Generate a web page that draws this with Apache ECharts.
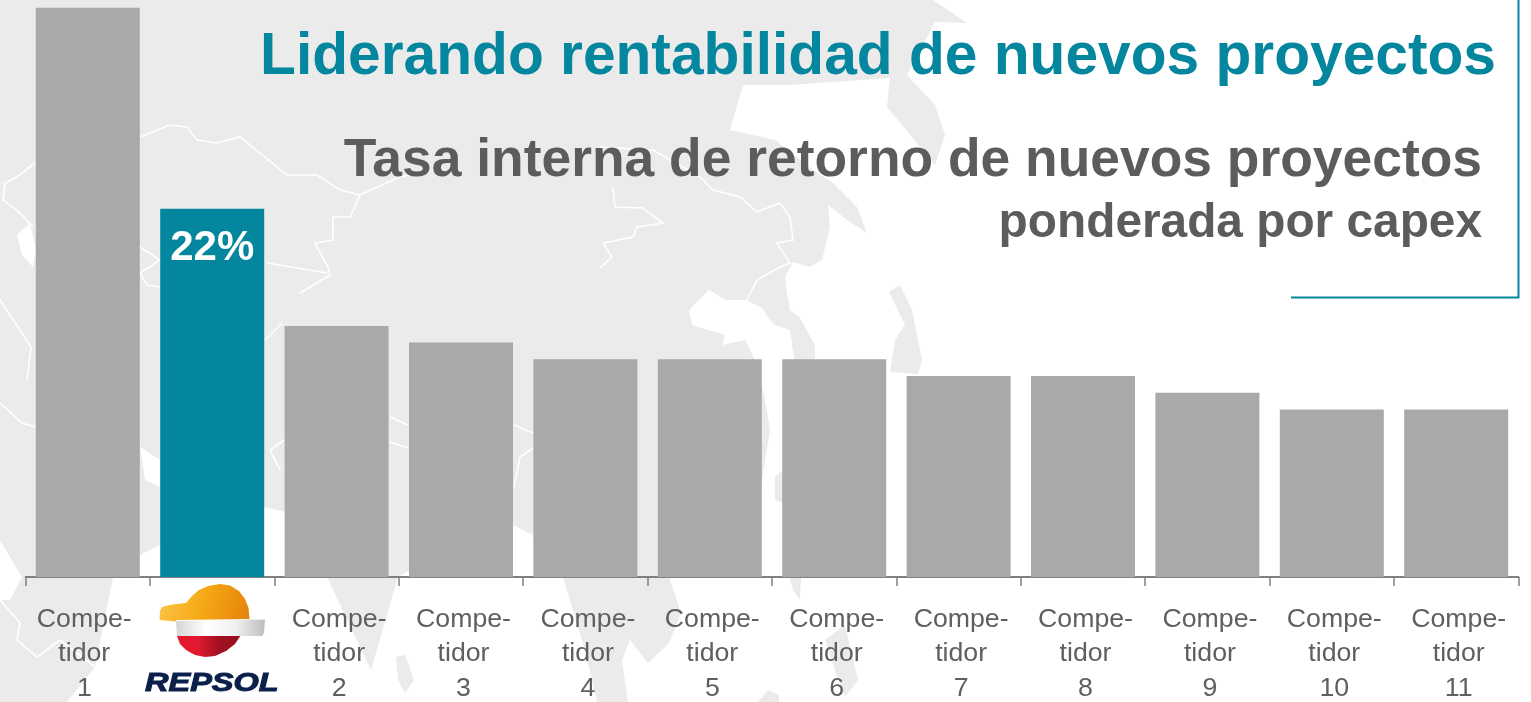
<!DOCTYPE html>
<html><head><meta charset="utf-8">
<style>html,body{margin:0;padding:0;background:#fff}#c{width:1531px;height:702px}</style>
<script src="https://cdn.jsdelivr.net/npm/echarts@6/dist/echarts.min.js"></script>
</head><body><div id="c"></div>
<script>
const categories = ['Competidor 1','REPSOL','Competidor 2','Competidor 3','Competidor 4','Competidor 5','Competidor 6','Competidor 7','Competidor 8','Competidor 9','Competidor 10','Competidor 11'];
const values = [34,22,15,14,13,13,13,12,12,11,10,10];
const highlightCategory = 'REPSOL';
const titleText = 'Liderando rentabilidad de nuevos proyectos';
const subtitleText = 'Tasa interna de retorno de nuevos proyectos';
const subtitle2Text = 'ponderada por capex';
const TEAL='#03869e', GREY='#a9a9a9', TXT='#5c5c5c', LAND='#ebebeb';
const FONT='"Liberation Sans", Arial, sans-serif';

// decorative world-map backdrop (not data)
const landMain=[[0,0],[933,0],[967,23],[935,22],[907,75],[935,105],[945,135],[935,165],[887,107],[890,78],[790,85],[743,85],[730,130],[775,140],[813,170],[833,183],[857,207],[867,233],[850,222],[828,205],[830,227],[822,260],[810,267],[793,262],[785,277],[787,293],[790,310],[800,318],[815,345],[815,365],[795,365],[790,330],[775,325],[770,320],[762,308],[746,300],[726,300],[709,290],[689,310],[692,325],[725,335],[722,345],[745,340],[755,360],[765,400],[770,430],[762,480],[700,560],[669,577],[681,613],[669,643],[648,663],[630,640],[622,660],[628,702],[597,702],[585,650],[563,577],[533,535],[513,525],[410,570],[398,577],[371,670],[327,577],[285,512],[265,507],[160,545],[140,555],[113,578],[103,627],[95,667],[67,702],[0,702]];
const landJapan=[[889,292],[900,285],[912,310],[922,360],[918,374],[890,372],[895,340],[905,325]];
const landIslands=[[[396,657],[405,655],[414,680],[405,693],[398,680]],[[775,477],[783,470],[783,503],[775,500]],[[789,577],[801,577],[800,600],[793,590]],[[758,702],[768,690],[779,695],[779,702]],[[825,640],[845,625],[858,680],[845,697],[835,670]]];
const seaPatches=[[[0,540],[22,577],[10,600],[0,600]],[[140,447],[160,460],[160,487],[145,480]],[[17,235],[30,223],[36,250],[33,267],[22,255]]];
const borders=[
 [[35,163],[17,177],[5,183],[3,200],[20,213],[33,227]],
 [[140,137],[170,125],[187,127],[197,140],[217,143],[240,137],[287,175],[317,175],[340,190],[360,195],[400,177],[430,170]],
 [[360,195],[350,217],[333,217],[333,240],[315,243],[328,267],[330,275],[300,293]],
 [[140,247],[160,260],[140,273],[147,285],[160,287]],
 [[267,263],[327,273]],
 [[613,187],[615,207],[643,208],[663,223],[637,227],[633,237],[603,243],[612,257],[600,268]],
 [[600,147],[653,150],[700,177],[713,190],[740,197],[757,212],[780,203],[790,217],[793,240],[777,243],[790,263],[780,267],[757,280],[747,300]],
 [[0,600],[20,623],[17,640],[37,657],[60,640],[95,667]],
 [[0,403],[22,423],[35,427]],[[0,300],[31,347],[27,380]],[[265,340],[282,323]],
 [[390,417],[408,425]],[[390,442],[408,448]],[[514,425],[533,433]],[[533,448],[520,457],[514,487]],
 [[284,440],[270,450],[280,470]]
];
// logo outlines (decoration)
const logoOrange=[[159.5,620],[160,611],[162,607],[172,604.5],[186,603],[192,596],[199,590],[208,586],[220,584],[230,585.5],[239,591],[245,599],[248.5,608],[249.5,619],[176,620],[176,621.5]];
const logoBand=[[176,621],[265,619.5],[264,633],[262,636],[255,636],[177,636]];
const logoRed=[[177,636],[241,635],[235,644],[226,651],[215,656],[205,657],[195,655],[186,650],[180,644]];

const poly=(p,fill,z)=>({type:'polygon',silent:true,z,shape:{points:p},style:{fill}});
const line=(p)=>({type:'polyline',silent:true,z:-8,shape:{points:p},style:{stroke:'#fff',lineWidth:1.6,fill:null}});
const grad=(x,y,x2,y2,stops)=>({type:'linear',x,y,x2,y2,colorStops:stops.map((c,i)=>({offset:i/(stops.length-1),color:c}))});

const graphics=[
 poly(landMain,LAND,-10),poly(landJapan,LAND,-10),...landIslands.map(p=>poly(p,LAND,-10)),
 ...seaPatches.map(p=>poly(p,'#fff',-9)),...borders.map(line),
 {type:'polyline',silent:true,z:5,shape:{points:[[1291,297.5],[1518.5,297.5],[1518.5,0]]},style:{stroke:TEAL,lineWidth:2,fill:null}},
 poly(logoOrange,grad(0,0,1,0.6,['#fdc64a','#f5a915','#e8830d']),10),
 poly(logoRed,grad(0,0,1,0,['#e4172f','#e01a30','#a01020','#96101f']),10),
 poly(logoBand,grad(0,0,1,0,['#d4d4d4','#ffffff','#f0f0f0','#bdbdbd']),11),
 {type:'text',silent:true,z:10,x:145,y:684,scaleX:1.3,style:{text:'REPSOL',font:'italic bold 25px '+FONT,fill:'#0b1f4b',stroke:'#0b1f4b',lineWidth:1,textVerticalAlign:'middle',textBaseline:'middle'}}
];

const chart=echarts.init(document.getElementById('c'),null,{renderer:'canvas'});
chart.setOption({
 animation:false,
 backgroundColor:'#fff',
 title:[
  {text:titleText,right:35,top:28,padding:0,textStyle:{fontFamily:FONT,fontWeight:'bold',fontSize:58.7,color:TEAL}},
  {text:subtitleText,right:49,top:135,padding:0,textStyle:{fontFamily:FONT,fontWeight:'bold',fontSize:53.4,color:TXT}},
  {text:subtitle2Text,right:49,top:200,padding:0,textStyle:{fontFamily:FONT,fontWeight:'bold',fontSize:47.8,color:TXT}}
 ],
 grid:{left:25.6,right:12.6,top:7.8,bottom:125},
 xAxis:{type:'category',data:categories,
  axisLine:{lineStyle:{color:'#808080',width:2}},
  axisTick:{show:true,length:9,lineStyle:{color:'#808080',width:1.5},alignWithLabel:false},
  axisLabel:{show:true,interval:0,margin:25,hideOverlap:false,
   formatter:(v)=>{ if(v===highlightCategory) return '';
     const n=v.split(' ')[1]; const s=n==='1'?'b':'a';
     return `{${s}|Compe-}\n{${s}|tidor}\n{${s}|${n}}`; },
   rich:{a:{fontFamily:FONT,fontSize:26.7,lineHeight:34.6,color:'#5f5f5f',padding:[0,0,0,5]},
         b:{fontFamily:FONT,fontSize:26.7,lineHeight:34.6,color:'#5f5f5f',padding:[0,7,0,0]}}}},
 yAxis:{type:'value',min:0,max:34,show:false},
 series:[{type:'bar',barCategoryGap:'16.4%',
  data:categories.map((c,i)=>c===highlightCategory
    ?{value:values[i],itemStyle:{color:TEAL},label:{show:true,position:'insideTop',distance:19,formatter:'{c}%',color:'#fff',fontFamily:FONT,fontWeight:'bold',fontSize:42}}
    :{value:values[i],itemStyle:{color:GREY}})}],
 graphic:{elements:graphics}
});
</script></body></html>
